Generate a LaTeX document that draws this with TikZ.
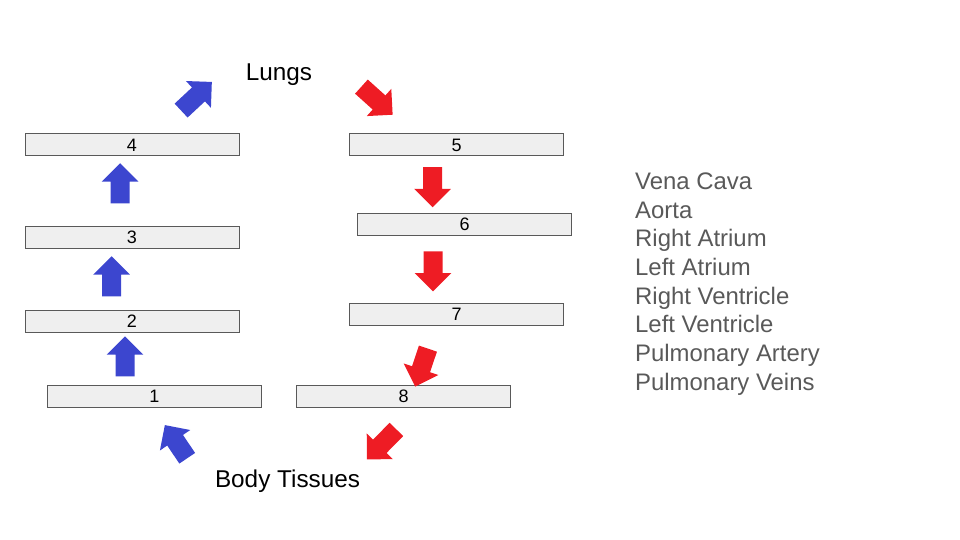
\documentclass[tikz,border=0pt]{standalone}
\usepackage{fontspec}
\setmainfont{Liberation Sans}
\usetikzlibrary{shapes.arrows}

\definecolor{boxfill}{HTML}{EFEFEF}
\definecolor{boxline}{HTML}{595959}
\definecolor{oxyblue}{HTML}{3C46CF}
\definecolor{oxyred}{HTML}{EE1C24}
\definecolor{listgray}{HTML}{595959}

\def\boxwidth{214pt}
\def\boxheight{22pt}
\def\listsep{28.7}

\begin{document}
\begin{tikzpicture}[x=1pt,y=-1pt,
% Here are defined the boxes, the fat arrows and the texts
box/.style={
rectangle, draw=boxline, line width=1pt,
fill=boxfill, inner sep=0,
minimum width=\boxwidth,
minimum height=\boxheight,
font=\fontsize{18}{20}\selectfont },
flow/.style={
single arrow, draw=none,
minimum height=40pt,
inner xsep=0, inner ysep=9.3pt,
single arrow head extend=8.8pt,
single arrow head indent=0pt },
blueflow/.style={
flow, fill=oxyblue },
redflow/.style={
flow, fill=oxyred },
organ/.style={
anchor=base, inner sep=0,
font=\fontsize{24.3}{28}\selectfont },
part/.style={
anchor=base west, inner sep=0,
text=listgray,
font=\fontsize{23.9}{28}\selectfont },
]
\useasboundingbox (0,0) rectangle (960,540);

%%%%%%%%%%%%%%%%%%%%%%%%
%%% THE TWO ENDS
%%%%%%%%%%%%%%%%%%%%%%%%
\node[organ] (lungs) at (279,80.6) {Lungs};
\node[organ] (body) at (287.5,487.6) {Body Tissues};

%%%%%%%%%%%%%%%%%%%%%%%%
%%% THE 8 BOXES
%%%%%%%%%%%%%%%%%%%%%%%%

% left side, going up
\node[box] (b1) at (154.5,396.5) {1};
\node[box] (b2) at (132,321) {2};
\node[box] (b3) at (132,237.5) {3};
\node[box] (b4) at (132,145) {4};

% right side, going down
\node[box] (b5) at (456.5,145) {5};
\node[box] (b6) at (464.5,224) {6};
\node[box] (b7) at (456.5,314) {7};
\node[box] (b8) at (403.5,396.5) {8};

%%%%%%%%%%%%%%%%%%%%%%%%
%%% THE FAT ARROWS
%%%%%%%%%%%%%%%%%%%%%%%%

% blue, from the body up to the lungs
\node[blueflow, rotate=124] (a0) at (178.7,445.6) {};
\node[blueflow, rotate=90] (a1) at (125,361) {};
\node[blueflow, rotate=90] (a2) at (111.5,281) {};
\node[blueflow, rotate=90] (a3) at (120,188) {};
\node[blueflow, rotate=43, minimum height=42pt] (a4) at (193,99.5) {};

% red, from the lungs down to the body
\node[redflow, rotate=-42, minimum height=42pt] (a5) at (373.5,97.5) {};
\node[redflow, rotate=-90] (a6) at (432.5,182.5) {};
\node[redflow, rotate=-90] (a7) at (433,266.7) {};
\node[redflow, rotate=-108.5] (a8) at (423.1,363.1) {};
\node[redflow, rotate=-134.5, minimum height=42pt] (a9) at (385,441) {};

%%%% The list of names
\node[part] (p1) at (635,189.4) {Vena Cava};
\node[part] (p2) at (635,189.4+\listsep) {Aorta};
\node[part] (p3) at (635,189.4+2*\listsep) {Right Atrium};
\node[part] (p4) at (635,189.4+3*\listsep) {Left Atrium};
\node[part] (p5) at (635,189.4+4*\listsep) {Right Ventricle};
\node[part] (p6) at (635,189.4+5*\listsep) {Left Ventricle};
\node[part] (p7) at (635,189.4+6*\listsep) {Pulmonary Artery};
\node[part] (p8) at (635,189.4+7*\listsep) {Pulmonary Veins};

\end{tikzpicture}
\end{document}
